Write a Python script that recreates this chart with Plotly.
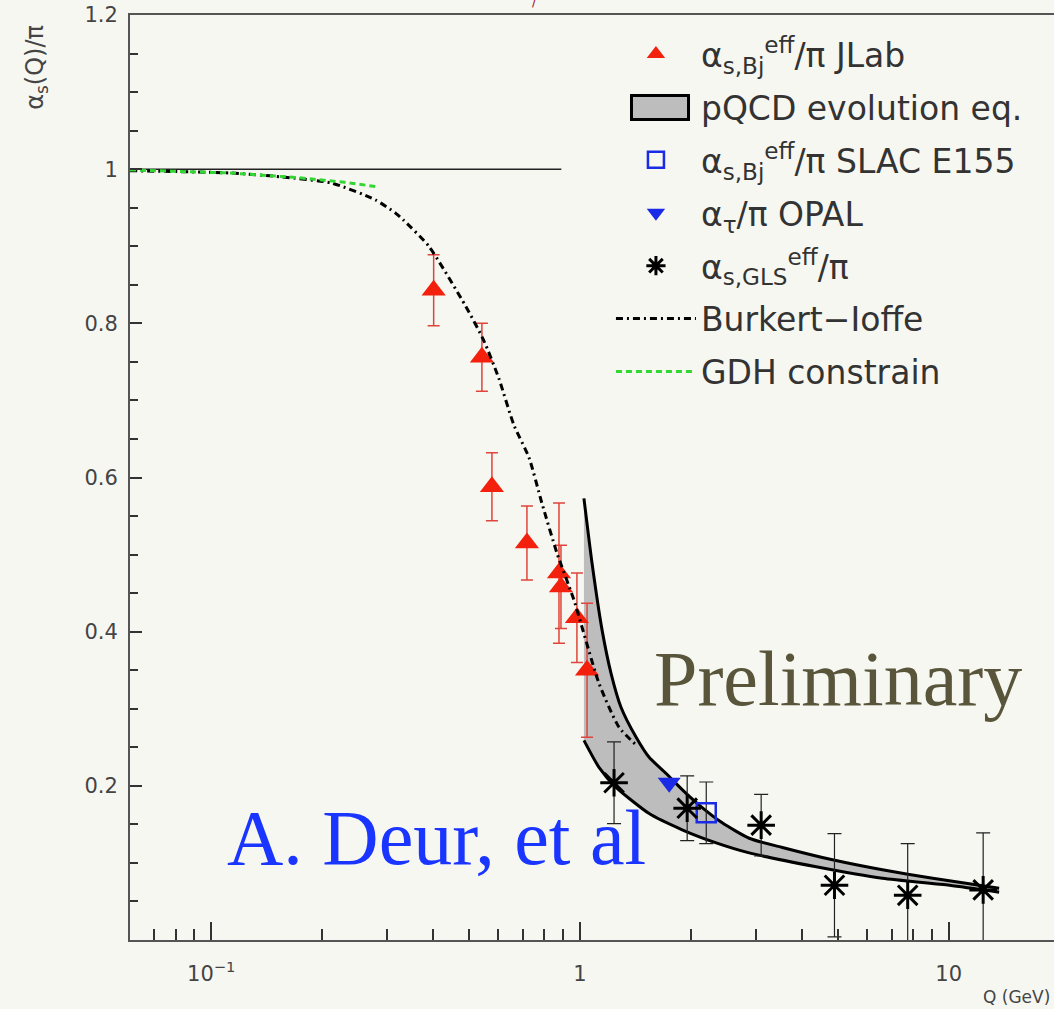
import numpy as np
import plotly.graph_objects as go

# ---------------- data ----------------
jlab_q = [0.401, 0.542, 0.577, 0.718, 0.877, 0.888, 0.981, 1.045]
jlab_a = [0.843, 0.756, 0.588, 0.515, 0.476, 0.458, 0.418, 0.350]
jlab_err = [0.046, 0.044, 0.044, 0.048, 0.091, 0.054, 0.058, 0.087]

gls_q = [1.237, 1.953, 3.10, 4.90, 7.74, 12.4]
gls_a = [0.204, 0.171, 0.149, 0.071, 0.058, 0.065]
gls_err = [0.053, 0.042, 0.040, 0.067, 0.067, 0.074]

slac_q = [2.20]
slac_a = [0.165]
slac_err = [0.040]

opal_q = [1.746]
opal_a = [0.204]

band_hi_q = [1.025, 1.078, 1.148, 1.214, 1.292, 1.420, 1.540, 1.713, 1.893, 2.105,
             2.431, 2.877, 3.54, 4.84, 6.61, 9.05, 13.7]
band_hi = [0.573, 0.489, 0.402, 0.346, 0.302, 0.263, 0.237, 0.216, 0.195, 0.175,
           0.152, 0.132, 0.120, 0.104, 0.091, 0.080, 0.067]
band_lo_q = [1.025, 1.126, 1.253, 1.540, 1.893, 2.341, 2.877, 4.37, 6.61, 10.05, 13.7]
band_lo = [0.259, 0.224, 0.198, 0.164, 0.143, 0.126, 0.113, 0.095, 0.080, 0.071, 0.062]

bi_q = [0.0602, 0.113, 0.155, 0.212, 0.279, 0.316, 0.332, 0.389, 0.490, 0.548, 0.602,
        0.662, 0.727, 0.788, 0.866, 0.963, 1.126, 1.276, 1.420]
bi_a = [0.998, 0.995, 0.990, 0.982, 0.960, 0.943, 0.934, 0.900, 0.822, 0.778, 0.729,
        0.668, 0.626, 0.567, 0.502, 0.441, 0.333, 0.276, 0.253]

gdh_q = [0.0602, 0.113, 0.172, 0.230, 0.284]
gdh_a = [0.999, 0.995, 0.989, 0.983, 0.977]

unity_q = [0.0602, 0.89]
unity_a = [1.0, 1.0]

y_tickvals = [0.2, 0.4, 0.6, 0.8, 1.0, 1.2]
y_ticktext = ["0.2", "0.4", "0.6", "0.8", "1", "1.2"]
x_tickvals = [0.1, 1, 10]
x_ticktext = ["10<sup>\u22121</sup>", "1", "10"]
x_minor = [0.07, 0.08, 0.09] + [k / 10 for k in range(2, 10)] + list(range(2, 10))

Q_MIN, Q_MAX = 0.0602, 19.3

BG = "#f7f7f2"
RED = "#f2200c"
RED_ERR = "#e0443a"
BLUE = "#1a2ae6"
GRAY = "#bdbdbd"

fig = go.Figure()

# pQCD band: lower edge, then upper edge filled to it
fig.add_trace(go.Scatter(x=band_lo_q, y=band_lo, mode="lines",
                         line=dict(color="black", width=3, shape="spline", smoothing=0.6),
                         showlegend=False))
fig.add_trace(go.Scatter(x=band_hi_q, y=band_hi, mode="lines", fill="tonexty", fillcolor=GRAY,
                         line=dict(color="black", width=3, shape="spline", smoothing=0.6),
                         showlegend=False))

# unity line
fig.add_trace(go.Scatter(x=unity_q, y=unity_a, mode="lines",
                         line=dict(color="#222", width=1.5), showlegend=False))

# legend order
fig.add_trace(go.Scatter(
    x=jlab_q, y=jlab_a, mode="markers", legendgroup="a",
    name="\u03b1<sub>s,Bj</sub><sup>eff</sup>/\u03c0 JLab",
    marker=dict(symbol="triangle-up", size=21, color=RED, line=dict(width=0)),
    error_y=dict(type="data", array=jlab_err, color=RED_ERR, thickness=1.5, width=6)))

fig.add_trace(go.Scatter(
    x=[None], y=[None], mode="lines", legendgroup="b",
    line=dict(color="rgba(0,0,0,0)", width=1), name="pQCD evolution eq."))

fig.add_trace(go.Scatter(
    x=slac_q, y=slac_a, mode="markers", legendgroup="c",
    name="\u03b1<sub>s,Bj</sub><sup>eff</sup>/\u03c0 SLAC E155",
    marker=dict(symbol="square-open", size=19, color=BLUE, line=dict(width=2.5, color=BLUE)),
    error_y=dict(type="data", array=slac_err, color="#222", thickness=1.2, width=7)))

fig.add_trace(go.Scatter(
    x=opal_q, y=opal_a, mode="markers", legendgroup="d",
    name="\u03b1<sub>\u03c4</sub>/\u03c0 OPAL",
    marker=dict(symbol="triangle-down", size=20, color=BLUE, line=dict(width=0))))

fig.add_trace(go.Scatter(
    x=gls_q, y=gls_a, mode="markers", legendgroup="e",
    name="\u03b1<sub>s,GLS</sub><sup>eff</sup>/\u03c0",
    marker=dict(symbol="asterisk", size=23, color="black", line=dict(width=3, color="black")),
    error_y=dict(type="data", array=gls_err, color="#222", thickness=1.2, width=7)))

fig.add_trace(go.Scatter(
    x=bi_q, y=bi_a, mode="lines", legendgroup="f", name="Burkert\u2212Ioffe",
    line=dict(color="black", width=3, dash="7px,4px,2px,4px", shape="spline", smoothing=0.6)))

fig.add_trace(go.Scatter(
    x=gdh_q, y=gdh_a, mode="lines", legendgroup="g", name="GDH constrain",
    line=dict(color="#33d633", width=3, dash="6px,4px")))

fig.update_layout(
    width=1054, height=1009,
    margin=dict(l=130, r=0, t=15, b=69),
    paper_bgcolor=BG, plot_bgcolor=BG,
    legend=dict(x=0.5205, y=0.988, xanchor="left", yanchor="top",
                bgcolor="rgba(0,0,0,0)", traceorder="grouped", tracegroupgap=7,
                itemwidth=80,
                font=dict(family="DejaVu Sans", size=33, color="#333")),
    xaxis=dict(type="log", range=[np.log10(Q_MIN), np.log10(Q_MAX)],
               showline=True, linecolor="#555", linewidth=2, mirror=True,
               ticks="inside", ticklen=18, tickwidth=1.5, tickcolor="#333",
               tickvals=x_tickvals, ticktext=x_ticktext, ticklabelstandoff=14,
               tickfont=dict(family="DejaVu Sans", size=21, color="#444"),
               minor=dict(ticks="inside", ticklen=11, tickwidth=1.5, tickcolor="#333",
                          tickvals=x_minor, showgrid=False),
               showgrid=False, zeroline=False),
    yaxis=dict(range=[0, 1.2], showline=True, linecolor="#555", linewidth=2,
               ticks="inside", ticklen=12, tickwidth=1.5, tickcolor="#333",
               tickvals=y_tickvals, ticktext=y_ticktext, ticklabelstandoff=6,
               tickfont=dict(family="DejaVu Sans", size=21, color="#444"),
               minor=dict(ticks="inside", ticklen=8, tickwidth=1.5, tickcolor="#333",
                          dtick=0.05, tick0=0, showgrid=False),
               showgrid=False, zeroline=False),
    annotations=[
        dict(text="Preliminary", x=0.766, y=0.2826, xref="paper", yref="paper",
             showarrow=False, xanchor="center", yanchor="middle",
             font=dict(family="Liberation Serif", size=78, color="#58553b")),
        dict(text="A. Deur, et al", x=0.3317, y=0.1108, xref="paper", yref="paper",
             showarrow=False, xanchor="center", yanchor="middle",
             font=dict(family="Liberation Serif", size=78, color="#1a35ff")),
        dict(text="\u03b1<sub>s</sub>(Q)/\u03c0", x=-0.1006, y=0.943, xref="paper", yref="paper",
             showarrow=False, textangle=-90, xanchor="center", yanchor="middle",
             font=dict(family="DejaVu Sans", size=24, color="#444")),
        dict(text="Q (GeV)", x=0.998, y=-0.062, xref="paper", yref="paper",
             showarrow=False, xanchor="right", yanchor="middle",
             font=dict(family="DejaVu Sans", size=17, color="#444")),
        dict(text="/", x=0.438, y=1.0, xref="paper", yref="paper", yshift=4,
             showarrow=False, xanchor="center", yanchor="bottom",
             font=dict(family="DejaVu Serif", size=14, color="#a01838")),
        # legend key box for the pQCD band entry
        dict(text=" ", x=0.5736, y=0.9005, xref="paper", yref="paper",
             showarrow=False, xanchor="center", yanchor="middle",
             width=54, height=21, borderpad=0, borderwidth=3,
             bgcolor=GRAY, bordercolor="black"),
    ],
)

fig.write_html(
    "out.html",
    config={"displayModeBar": False},
    post_script="document.body.style.margin='0';document.body.style.background='%s';" % BG,
)
